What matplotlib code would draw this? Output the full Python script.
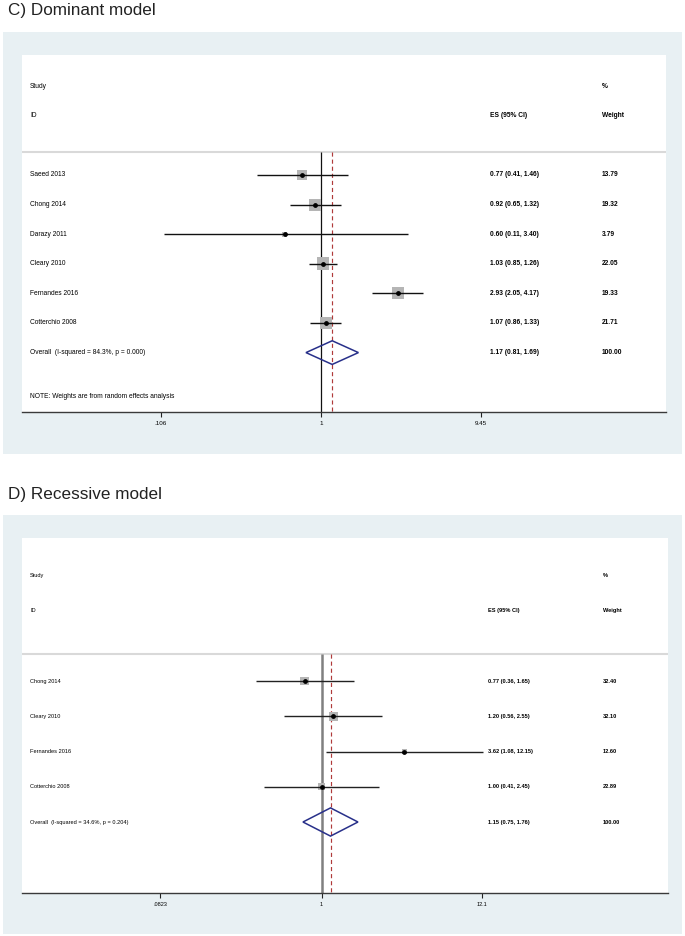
import numpy as np
import matplotlib
matplotlib.use("Agg")
import matplotlib.pyplot as plt
from matplotlib import transforms
from matplotlib.patches import Rectangle, Polygon

plt.rcParams['font.family'] = ['Liberation Sans', 'DejaVu Sans']

# ---------------- data ----------------
c_title = "C) Dominant model"
c_studies = ["Saeed 2013", "Chong 2014", "Darazy 2011", "Cleary 2010",
             "Fernandes 2016", "Cotterchio 2008"]
c_es = [0.77, 0.92, 0.60, 1.03, 2.93, 1.07]
c_lo = [0.41, 0.65, 0.11, 0.85, 2.05, 0.86]
c_hi = [1.46, 1.32, 3.40, 1.26, 4.17, 1.33]
c_wt = [13.79, 19.32, 3.79, 22.05, 19.33, 21.71]
c_overall = [1.17, 0.81, 1.69]
c_overall_label = "Overall  (I-squared = 84.3%, p = 0.000)"
c_note = "NOTE: Weights are from random effects analysis"
c_ticks = [0.106, 1, 9.45]
c_ticklabels = [".106", "1", "9.45"]

d_title = "D) Recessive model"
d_studies = ["Chong 2014", "Cleary 2010", "Fernandes 2016", "Cotterchio 2008"]
d_es = [0.77, 1.20, 3.62, 1.00]
d_lo = [0.36, 0.56, 1.08, 0.41]
d_hi = [1.65, 2.55, 12.15, 2.45]
d_wt = [32.40, 32.10, 12.60, 22.89]
d_overall = [1.15, 0.75, 1.76]
d_overall_label = "Overall  (I-squared = 34.6%, p = 0.204)"
d_ticks = [0.0823, 1, 12.1]
d_ticklabels = [".0823", "1", "12.1"]

# ---------------- figure ----------------
W, H = 685, 936
DPI = 100
fig = plt.figure(figsize=(W / DPI, H / DPI), dpi=DPI)
fig.patch.set_facecolor("white")

BG = "#e8f0f3"
NAVY = "#28308a"
RED = "#b03a3a"
SQ = "#b5b5b5"


def fx(px):
    return px / W


def fy(py):
    return 1 - py / H


def panel(title, title_y, box, white, xlim, ylim, studies, es, lo, hi, wt,
          overall, overall_label, note, ticks, ticklabels, fs, col_es, col_wt,
          k_sq, vline_color, vline_lw, ci_color, tick_fs):
    # title
    fig.text(fx(8), fy(title_y), title, fontsize=12.3, ha="left", va="center",
             color="#222222")
    # background box
    x0, y0, x1, y1 = box
    fig.patches.append(Rectangle((fx(x0), fy(y1)), fx(x1) - fx(x0), fy(y0) - fy(y1),
                                 transform=fig.transFigure, facecolor=BG,
                                 edgecolor="none", zorder=-5))
    wx0, wy0, wx1, wy1 = white
    ax = fig.add_axes([fx(wx0), fy(wy1), fx(wx1) - fx(wx0), fy(wy0) - fy(wy1)])
    ax.set_zorder(2)
    ax.set_facecolor("white")
    ax.set_xscale("log")
    ax.set_xlim(*xlim)
    ax.set_ylim(*ylim)
    for s in ["top", "left", "right"]:
        ax.spines[s].set_visible(False)
    ax.spines["bottom"].set_color("#3a3a3a")
    ax.spines["bottom"].set_linewidth(1.0)
    ax.set_yticks([])
    ax.set_xticks(ticks)
    ax.set_xticklabels(ticklabels, fontsize=tick_fs)
    ax.xaxis.set_minor_locator(matplotlib.ticker.NullLocator())
    ax.tick_params(axis="x", direction="out", length=3.6, width=0.8,
                   color="#222222", pad=3)

    n = len(studies)
    rows = np.arange(n)
    sep_y = -0.78
    bottom = ylim[0]

    tr = transforms.blended_transform_factory(ax.transAxes, ax.transData)
    # headers
    ax.text(0.0124, -3, "Study", transform=tr, fontsize=fs, va="center", ha="left")
    ax.text(0.0124, -2, "ID", transform=tr, fontsize=fs, va="center", ha="left")
    ax.text(col_es, -2, "ES (95% CI)", transform=tr, fontsize=fs, va="center",
            ha="left", fontweight="bold")
    ax.text(col_wt, -3, "%", transform=tr, fontsize=fs, va="center", ha="left",
            fontweight="bold")
    ax.text(col_wt, -2, "Weight", transform=tr, fontsize=fs, va="center",
            ha="left", fontweight="bold")
    ax.axhline(sep_y, color="#d9d9d9", lw=1.5, zorder=1)

    # reference lines
    ax.vlines(1, sep_y, bottom, color=vline_color, lw=vline_lw, zorder=2)
    ax.vlines(overall[0], sep_y, bottom, color=RED, lw=0.85,
              linestyles=(0, (3.5, 2.5)), zorder=2)

    # studies
    sizes = [k_sq ** 2 * w / (DPI / 72) ** 2 for w in wt]
    ax.scatter(es, rows, s=sizes, marker="s", color=SQ, edgecolors="none", zorder=3)
    ax.hlines(rows, lo, hi, color=ci_color, lw=1.0, zorder=4)
    ax.scatter(es, rows, s=6, marker="o", color="black", zorder=5)

    for i in range(n):
        ax.text(0.0124, rows[i], studies[i], transform=tr, fontsize=fs,
                va="center", ha="left")
        ax.text(col_es, rows[i], f"{es[i]:.2f} ({lo[i]:.2f}, {hi[i]:.2f})",
                transform=tr, fontsize=fs,
                family=["Liberation Sans Narrow", "Liberation Sans"],
                fontweight="bold", va="center", ha="left")
        ax.text(col_wt, rows[i], f"{wt[i]:.2f}", transform=tr, fontsize=fs,
                fontweight="bold", va="center", ha="left")

    # overall diamond
    yo = n
    hd = 0.4
    est, olo, ohi = overall
    ax.add_patch(Polygon([[olo, yo], [est, yo - hd], [ohi, yo], [est, yo + hd]],
                         closed=True, fill=False, edgecolor=NAVY, lw=1.1,
                         zorder=6))
    ax.text(0.0124, yo, overall_label, transform=tr, fontsize=fs,
            va="center", ha="left")
    ax.text(col_es, yo, f"{est:.2f} ({olo:.2f}, {ohi:.2f})", transform=tr,
            fontsize=fs, family=["Liberation Sans Narrow", "Liberation Sans"],
            fontweight="bold", va="center", ha="left")
    ax.text(col_wt, yo, "100.00", transform=tr, fontsize=fs,
            fontweight="bold", va="center", ha="left")
    if note:
        ax.text(0.0124, n + 1.5, note, transform=tr, fontsize=fs,
                va="center", ha="left")
    return ax


panel(c_title, 10, (3, 32, 682, 454), (22, 55, 666, 412),
      (np.exp((22 - 321) / 71.3), np.exp((666 - 321) / 71.3)), (8.007, -4.054),
      c_studies, c_es, c_lo, c_hi, c_wt, c_overall, c_overall_label, c_note,
      c_ticks, c_ticklabels, 4.8, 0.7267, 0.9006, 2.7, "#111111", 0.9,
      "#111111", 4.5)

panel(d_title, 494, (3, 515, 682, 934), (22, 538, 668, 893),
      (np.exp((22 - 321.5) / 64.5), np.exp((668 - 321.5) / 64.5)), (6.014, -4.057),
      d_studies, d_es, d_lo, d_hi, d_wt, d_overall, d_overall_label, None,
      d_ticks, d_ticklabels, 4.1, 0.7214, 0.899, 1.5, "#808080", 1.8,
      "#222222", 4.0)

fig.savefig("out.png", dpi=DPI)
